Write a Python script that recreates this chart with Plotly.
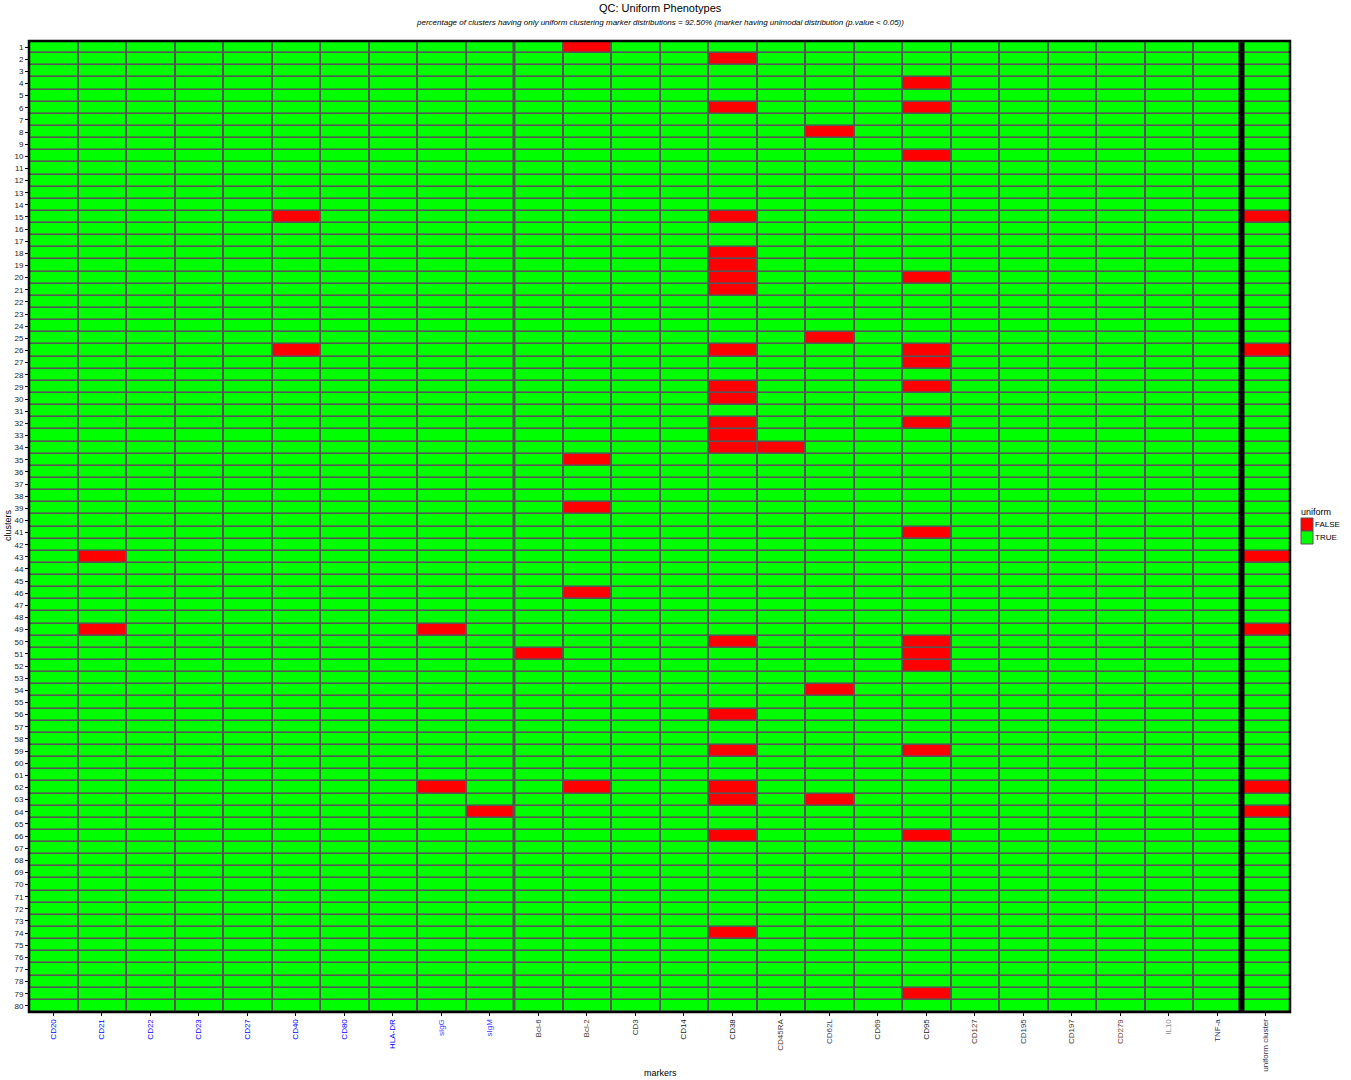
import plotly.graph_objects as go

markers = ["CD20", "CD21", "CD22", "CD23", "CD27", "CD40", "CD80", "HLA-DR", "sIgG", "sIgM",
           "Bcl-6", "Bcl-2", "CD3", "CD14", "CD38", "CD45RA", "CD62L", "CD69", "CD95", "CD127",
           "CD195", "CD197", "CD279", "IL10", "TNF-a", "uniform cluster"]
marker_colors = ["#0000FF"] * 8 + ["#3B3BFF", "#3B3BFF"] + [
    "#3a3a3a", "#4d3a26", "#333333", "#222222", "#222222", "#4d3a26", "#2d4477", "#333333",
    "#222222", "#553322", "#223a6e", "#553322", "#6e3a1a", "#8a8a8a", "#223366", "#333355"]
clusters = list(range(1, 81))

# clusters with a non-uniform (FALSE) distribution, per marker
false_cells = {
    "CD21": [43, 49],
    "CD40": [15, 26],
    "sIgG": [49, 62],
    "sIgM": [64],
    "Bcl-6": [51],
    "Bcl-2": [1, 35, 39, 46, 62],
    "CD38": [2, 6, 15, 18, 19, 20, 21, 26, 29, 30, 32, 33, 34, 50, 56, 59, 62, 63, 66, 74],
    "CD45RA": [34],
    "CD62L": [8, 25, 54, 63],
    "CD95": [4, 6, 10, 20, 26, 27, 29, 32, 41, 50, 51, 52, 59, 66, 79],
    "uniform cluster": [15, 26, 43, 49, 62, 64],
}
legend_labels = ["FALSE", "TRUE"]
legend_colors = ["#FF0000", "#00FF00"]

z = []
for c in clusters:
    z.append([0 if c in false_cells.get(m, []) else 1 for m in markers])

xi = list(range(len(markers)))

W, H = 1351, 1080
L, R, T, B = 29, 61, 41, 68
pw, ph = W - L - R, H - T - B


def px_x(p):  # page pixel -> paper x
    return (p - L) / pw


def px_y(p):  # page pixel -> paper y
    return 1 - (p - T) / ph


fig = go.Figure()
fig.add_trace(go.Heatmap(
    z=z, x=xi, y=clusters,
    colorscale=[[0, "#FF0000"], [0.5, "#FF0000"], [0.5, "#00FF00"], [1, "#00FF00"]],
    zmin=0, zmax=1, showscale=False, xgap=2, ygap=1.6, hoverinfo="skip"))

ticktext = [f'<span style="color:{c}">{m}</span>' for m, c in zip(markers, marker_colors)]

fig.update_xaxes(
    tickvals=xi, ticktext=ticktext, tickangle=-90, tickfont=dict(size=8),
    range=[-0.5, len(markers) - 0.5], showgrid=False, zeroline=False,
    ticks="outside", ticklen=3, tickcolor="#000", showline=False, automargin=False)
fig.update_yaxes(
    tickvals=clusters, ticktext=[str(c) for c in clusters], tickfont=dict(size=8, color="#222"),
    range=[80.5, 0.5], showgrid=False, zeroline=False,
    ticks="outside", ticklen=3, tickcolor="#000", showline=False, automargin=False)

shapes = [
    dict(type="line", xref="x", yref="paper", x0=9.5, x1=9.5, y0=0, y1=1,
         line=dict(color="#555555", width=3)),
    dict(type="line", xref="x", yref="paper", x0=24.5, x1=24.5, y0=0, y1=1,
         line=dict(color="#000000", width=6)),
    dict(type="rect", xref="paper", yref="paper", x0=0, x1=1, y0=0, y1=1,
         line=dict(color="#000000", width=2.5)),
]

annotations = [
    dict(text="QC: Uniform Phenotypes", xref="paper", yref="paper", x=px_x(660), y=px_y(8),
         xanchor="center", yanchor="middle", showarrow=False, font=dict(size=11)),
    dict(text="<i>percentage of clusters having only uniform clustering marker distributions = 92.50% (marker having unimodal distribution (p.value < 0.05))</i>",
         xref="paper", yref="paper", x=px_x(660), y=px_y(22), xanchor="center",
         yanchor="middle", showarrow=False, font=dict(size=8)),
    dict(text="markers", xref="paper", yref="paper", x=px_x(660), y=px_y(1073),
         xanchor="center", yanchor="middle", showarrow=False, font=dict(size=9)),
    dict(text="clusters", xref="paper", yref="paper", x=px_x(8), xanchor="center",
         y=px_y(525), yanchor="middle", textangle=-90, showarrow=False, font=dict(size=9)),
    dict(text="uniform", xref="paper", yref="paper", x=px_x(1299), xanchor="left",
         y=px_y(512), yanchor="middle", showarrow=False, font=dict(size=9)),
]

for i, (lab, col) in enumerate(zip(legend_labels, legend_colors)):
    top = 518 + i * 13
    shapes.append(dict(type="rect", xref="paper", yref="paper",
                       x0=px_x(1301), x1=px_x(1313), y0=px_y(top), y1=px_y(top + 13),
                       fillcolor=col, line=dict(color="#555555", width=1)))
    annotations.append(dict(text=lab, xref="paper", yref="paper", x=px_x(1313),
                            xanchor="left", y=px_y(top + 6.5), yanchor="middle",
                            showarrow=False, font=dict(size=8)))

fig.update_layout(
    width=W, height=H,
    margin=dict(l=L, r=R, t=T, b=B, autoexpand=False),
    paper_bgcolor="white", plot_bgcolor="#555555",
    font=dict(family="Liberation Sans, Arial, sans-serif", color="#000"),
    shapes=shapes, annotations=annotations, showlegend=False,
)

fig.write_html("out.html", config={"displayModeBar": False},
               post_script="document.body.style.margin='0';document.body.style.overflow='hidden';")
